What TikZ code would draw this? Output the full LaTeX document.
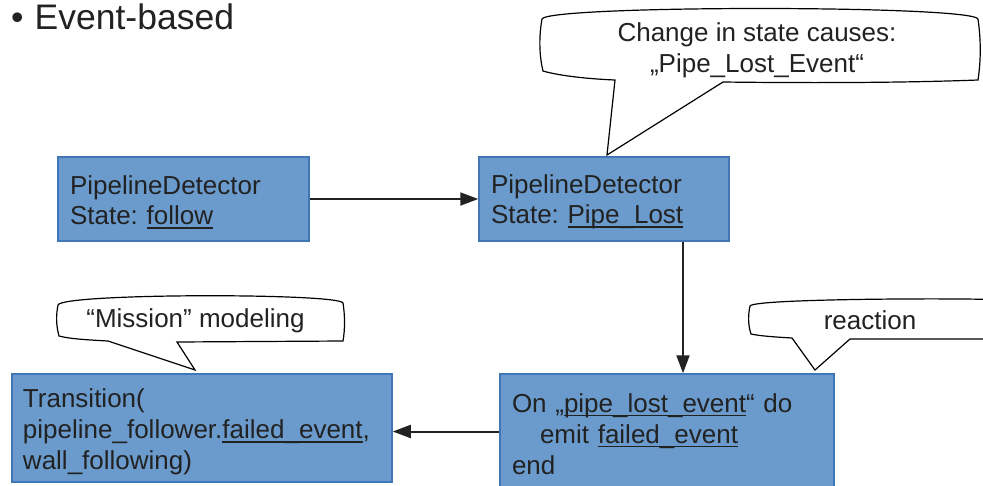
\documentclass[tikz,border=0pt]{standalone}
\usepackage{fontspec}
\setmainfont{Liberation Sans}
\usetikzlibrary{arrows.meta}
\definecolor{boxfill}{HTML}{6A9BCC}
\definecolor{boxline}{HTML}{4177B6}
\definecolor{ink}{HTML}{222222}
\frenchspacing
\newcommand{\myul}[1]{\setbox0=\hbox{#1}\rlap{\rule[-4pt]{\wd0}{1.8pt}}#1}
\newcommand{\lift}[1]{\rule{0pt}{#1}}
\begin{document}
\begin{tikzpicture}[x=1pt,y=-1pt,
  every node/.style={text=ink},
  box/.style={draw=boxline, line width=1.5pt, fill=boxfill, inner xsep=12pt, inner ysep=0pt,
    align=left, font=\fontsize{26}{31}\selectfont},
  arr/.style={draw=ink, line width=2pt, -{Triangle[length=18pt,width=13pt]}},
  callout/.style={draw=black, line width=1.2pt, fill=white},
  calltext/.style={font=\fontsize{26}{31}\selectfont, align=center, inner sep=0pt}]
\useasboundingbox (0,0) rectangle (983,485);
\clip (0,0) rectangle (983,485);

% title
\node[font=\fontsize{35.5}{40}\selectfont, inner sep=0pt, anchor=base west] (bul) at (11,29) {•};
\node[font=\fontsize{35.5}{40}\selectfont, inner sep=0pt, anchor=base west] (title) at (34.5,29) {Event-based};

% boxes
\node[box, minimum width=251pt, minimum height=84pt, text width=227pt, font=\fontsize{26}{30}\selectfont] (A) at (183.5,199)
  {\lift{25pt}PipelineDetector\\State: \myul{follow}};
\node[box, minimum width=250pt, minimum height=84pt, text width=226pt, font=\fontsize{26}{30}\selectfont] (B) at (604,199)
  {\lift{25pt}PipelineDetector\\State: \myul{Pipe\_Lost}};
\node[box, inner xsep=11pt, minimum width=380pt, minimum height=108pt, text width=358pt] (C) at (202,428)
  {\lift{27pt}Transition(\\pipeline\_follower.\myul{failed\_event},\\wall\_following)};
\node[box, minimum width=334pt, minimum height=115pt, text width=310pt] (D) at (667,431.5)
  {\lift{24pt}On „\myul{pipe\_lost\_event}“ do\\\hspace*{28pt}emit \myul{failed\_event}\\end};

% connectors
\draw[arr] (A.east) -- (B.west);
\draw[arr] ([xshift=79pt]B.south) -- ([xshift=79pt]B.south |- D.north);
\draw[arr] (D.west) -- (D.west -| C.east);

% callout 1
\draw[callout] (542,19) .. controls (548,5) and (972,5) .. (978,19)
  .. controls (981,40) and (981,60) .. (978,80)
  .. controls (900,83) and (800,83) .. (723,82)
  -- (607,155) -- (615,80)
  .. controls (590,79) and (560,76) .. (543,71)
  .. controls (539,55) and (539,35) .. (542,19) -- cycle;
\node[calltext] (c1) at (757,50) {Change in state causes:\\„Pipe\_Lost\_Event“};

% callout 2
\draw[callout] (58,305) .. controls (62,293) and (339,293) .. (343,303)
  .. controls (345,315) and (345,330) .. (343,341)
  -- (177,342) -- (195,370) -- (108,341)
  .. controls (90,340) and (70,339) .. (59,336)
  .. controls (56,325) and (56,315) .. (58,305) -- cycle;
\node[calltext, anchor=base] (c2) at (195.5,327) {“Mission” modeling};

% callout 3
\draw[callout] (750,306) .. controls (753,298) and (990,298) .. (1000,300)
  -- (1000,339)
  -- (850,339) -- (815,370) -- (792,338)
  .. controls (775,337) and (760,336) .. (751,334)
  .. controls (748,325) and (748,315) .. (750,306) -- cycle;
\node[calltext, anchor=base] (c3) at (870,329) {reaction};
\end{tikzpicture}
\end{document}
